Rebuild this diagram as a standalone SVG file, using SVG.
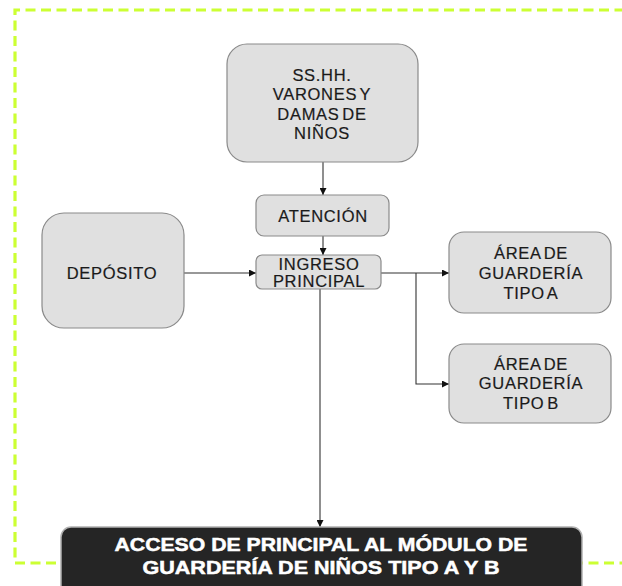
<svg xmlns="http://www.w3.org/2000/svg" width="622" height="586" viewBox="0 0 622 586">
<defs>
<style>
.node{fill:#e0e0e0;stroke:#8a8a8a;stroke-width:1.2}
.t{font-family:"Liberation Sans",Arial,sans-serif;font-size:16.5px;fill:#1a1a1a;stroke:#1a1a1a;stroke-width:0.2;text-anchor:middle;letter-spacing:0.7px;word-spacing:-2.5px}
.title{font-family:"Liberation Sans",Arial,sans-serif;font-size:18.5px;font-weight:bold;fill:#ffffff;stroke:#ffffff;stroke-width:0.5;text-anchor:middle}
.conn{fill:none;stroke:#333333;stroke-width:1.1}
.border{fill:none;stroke:#ccff33;stroke-width:3.2;stroke-dasharray:10 5.5}
</style>
<marker id="arr" viewBox="0 0 10 10" refX="10" refY="5" markerWidth="7" markerHeight="7" markerUnits="userSpaceOnUse" orient="auto">
<path d="M0,0 L10,5 L0,10 z" fill="#111111"/>
</marker>
</defs>
<rect width="622" height="586" fill="#ffffff"/>
<path class="border" d="M640,10 H15 V563 H640"/>

<g id="connectors">
<path class="conn" d="M323,162 V195" marker-end="url(#arr)"/>
<path class="conn" d="M323,236 V255" marker-end="url(#arr)"/>
<path class="conn" d="M184,273 H256" marker-end="url(#arr)"/>
<path class="conn" d="M381,273 H449" marker-end="url(#arr)"/>
<path class="conn" d="M416,273 V384 H449" marker-end="url(#arr)"/>
<path class="conn" d="M320,289 V527" marker-end="url(#arr)"/>
</g>

<g id="sshh">
<rect class="node" x="227" y="44" width="191" height="118" rx="20"/>
<text class="t" x="322" y="81">SS.HH.</text>
<text class="t" x="322" y="100">VARONES Y</text>
<text class="t" x="322" y="120">DAMAS DE</text>
<text class="t" x="322" y="139">NIÑOS</text>
</g>

<g id="atencion">
<rect class="node" x="256" y="195" width="133" height="41" rx="8"/>
<text class="t" x="323" y="222">ATENCIÓN</text>
</g>

<g id="ingreso">
<rect class="node" x="256" y="255" width="125" height="34" rx="6"/>
<text class="t" x="319" y="270">INGRESO</text>
<text class="t" x="319" y="287">PRINCIPAL</text>
</g>

<g id="deposito">
<rect class="node" x="42" y="213" width="142" height="115" rx="22"/>
<text class="t" x="112" y="279">DEPÓSITO</text>
</g>

<g id="areaA">
<rect class="node" x="449" y="232" width="162" height="81" rx="15"/>
<text class="t" x="531" y="259">ÁREA DE</text>
<text class="t" x="531" y="279">GUARDERÍA</text>
<text class="t" x="531" y="299">TIPO A</text>
</g>

<g id="areaB">
<rect class="node" x="449" y="344" width="162" height="79" rx="15"/>
<text class="t" x="531" y="370">ÁREA DE</text>
<text class="t" x="531" y="389">GUARDERÍA</text>
<text class="t" x="531" y="409">TIPO B</text>
</g>

<g id="acceso">
<rect x="61" y="527" width="521" height="70" rx="10" fill="#252525" stroke="#b0b0b0" stroke-width="1.5"/>
<text class="title" x="321" y="551" textLength="413" lengthAdjust="spacingAndGlyphs">ACCESO DE PRINCIPAL AL MÓDULO DE</text>
<text class="title" x="321" y="574" textLength="357" lengthAdjust="spacingAndGlyphs">GUARDERÍA DE NIÑOS TIPO A Y B</text>
</g>
</svg>
